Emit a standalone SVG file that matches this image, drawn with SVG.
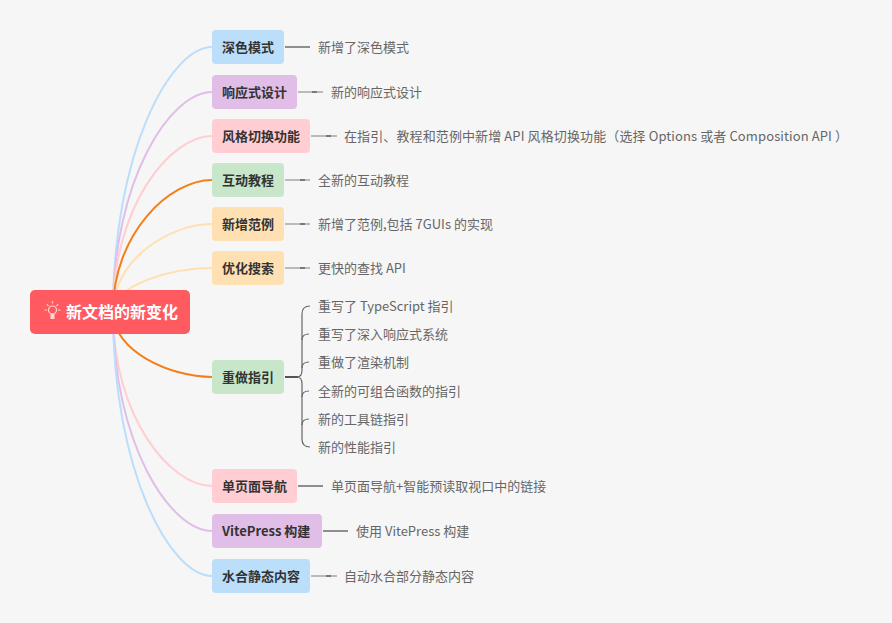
<svg xmlns="http://www.w3.org/2000/svg" width="892" height="623" viewBox="0 0 892 623">
<style>
.bg{fill:#F6F6F6}
.c{fill:none;stroke-width:2}
.blue{stroke:#BBDEFB}.purple{stroke:#E1BEE7}.pink{stroke:#FFCDD2}.orange{stroke:#F57F17}.lorange{stroke:#FFE0B2}
.nb{fill:#BBDEFB}.np{fill:#E1BEE7}.nk{fill:#FFCDD2}.ng{fill:#C8E6C9}.no{fill:#FFE0B2}
.nt{font-family:"Noto Sans CJK SC","Liberation Sans",sans-serif;font-size:13px;font-weight:bold;fill:#333}
.lt{font-family:"Noto Sans CJK SC","Liberation Sans",sans-serif;font-size:13px;fill:#666}
.ll{stroke:#999;stroke-width:1.3;fill:none}
.ld{stroke:#555;stroke-width:1.3;fill:none}
.br{stroke:#666;stroke-width:1.2;fill:none}
</style>
<rect class="bg" x="0" y="0" width="892" height="623"/>
<g id="connectors">
<path class="c blue" d="M113 312 C113 153 170 47 212 47"/>
<path class="c purple" d="M113 312 C113 180 170 92 212 92"/>
<path class="c pink" d="M113 312 C113 206.4 170 136 212 136"/>
<path class="c orange" d="M113 312 C113 232.8 170 180 212 180"/>
<path class="c lorange" d="M113 312 C113 259.2 170 224 212 224"/>
<path class="c lorange" d="M113 312 C113 285.6 170 268 212 268"/>
<path class="c orange" d="M113 312 C113 351 170 377 212 377"/>
<path class="c pink" d="M113 312 C113 416.4 170 486 212 486"/>
<path class="c purple" d="M113 312 C113 443.4 170 531 212 531"/>
<path class="c blue" d="M113 312 C113 470.4 170 576 212 576"/>
<path class="ld" d="M285 47 H310"/>
<path class="ll" d="M298 92 H323"/><path class="ld" d="M312 92 H317"/>
<path class="ll" d="M311 136 H337"/><path class="ld" d="M326 136 H331"/>
<path class="ll" d="M285 180 H310"/><path class="ld" d="M300 180 H305"/>
<path class="ll" d="M285 224 H310"/><path class="ld" d="M300 224 H305"/>
<path class="ll" d="M285 268 H310"/><path class="ld" d="M300 268 H305"/>
<path class="ld" d="M298 486 H323"/>
<path class="ld" d="M323 531 H348"/>
<path class="ll" d="M311 576 H337"/><path class="ld" d="M326 576 H331"/>
<path d="M285 377 H298" stroke="#555" stroke-width="2" fill="none"/>
<path class="br" d="M310 306 Q302 306 302 314 L302 370 Q302 377 297 377 Q302 377 302 384 L302 439 Q302 447 310 447"/>
<path class="br" d="M302 340 Q302 334 309 334"/>
<path class="br" d="M302 368 Q302 362 309 362"/>
<path class="br" d="M302 397 Q302 391 309 391"/>
<path class="br" d="M302 425 Q302 419 309 419"/>
</g>
<g id="root">
<rect x="30" y="290" width="160" height="44" rx="5" fill="#FF5A5F"/>
<g stroke="#FFD6D6" stroke-width="1.2" fill="none" stroke-linecap="round">
<circle cx="52.5" cy="310" r="4"/>
<path d="M52.5 301.5 V303 M45 310 H46.5 M58.5 310 H60 M47.2 304.7 L48.2 305.7 M57.8 304.7 L56.8 305.7"/>
</g>
<rect x="50.5" y="314" width="4" height="5" fill="#FFD6D6"/>
<text x="66" y="318" font-family="Noto Sans CJK SC,Liberation Sans,sans-serif" font-size="16" font-weight="bold" fill="#FFFFFF">新文档的新变化</text>
</g>
<g id="n1"><rect class="nb" x="212" y="30" width="72" height="34" rx="4"/><text class="nt" x="222" y="52">深色模式</text></g>
<g id="n2"><rect class="np" x="212" y="75" width="85" height="34" rx="4"/><text class="nt" x="222" y="97">响应式设计</text></g>
<g id="n3"><rect class="nk" x="212" y="119" width="98" height="34" rx="4"/><text class="nt" x="222" y="141">风格切换功能</text></g>
<g id="n4"><rect class="ng" x="212" y="163" width="72" height="34" rx="4"/><text class="nt" x="222" y="185">互动教程</text></g>
<g id="n5"><rect class="no" x="212" y="207" width="72" height="34" rx="4"/><text class="nt" x="222" y="229">新增范例</text></g>
<g id="n6"><rect class="no" x="212" y="251" width="72" height="34" rx="4"/><text class="nt" x="222" y="273">优化搜索</text></g>
<g id="n7"><rect class="ng" x="212" y="360" width="72" height="34" rx="4"/><text class="nt" x="222" y="382">重做指引</text></g>
<g id="n8"><rect class="nk" x="212" y="469" width="85" height="34" rx="4"/><text class="nt" x="222" y="491">单页面导航</text></g>
<g id="n9"><rect class="np" x="212" y="514" width="110" height="34" rx="4"/><text class="nt" x="222" y="536">VitePress 构建</text></g>
<g id="n10"><rect class="nb" x="212" y="559" width="98" height="34" rx="4"/><text class="nt" x="222" y="581">水合静态内容</text></g>
<g id="leaves">
<text class="lt" x="318" y="52">新增了深色模式</text>
<text class="lt" x="331" y="97">新的响应式设计</text>
<text class="lt" x="344" y="141" textLength="504" lengthAdjust="spacing">在指引、教程和范例中新增 API 风格切换功能（选择 Options 或者 Composition API ）</text>
<text class="lt" x="318" y="185">全新的互动教程</text>
<text class="lt" x="318" y="229">新增了范例,包括 7GUIs 的实现</text>
<text class="lt" x="318" y="273">更快的查找 API</text>
<text class="lt" x="318" y="311">重写了 TypeScript 指引</text>
<text class="lt" x="318" y="339">重写了深入响应式系统</text>
<text class="lt" x="318" y="367">重做了渲染机制</text>
<text class="lt" x="318" y="396">全新的可组合函数的指引</text>
<text class="lt" x="318" y="424">新的工具链指引</text>
<text class="lt" x="318" y="452">新的性能指引</text>
<text class="lt" x="331" y="491">单页面导航+智能预读取视口中的链接</text>
<text class="lt" x="356" y="536">使用 VitePress 构建</text>
<text class="lt" x="344" y="581">自动水合部分静态内容</text>
</g>
</svg>
